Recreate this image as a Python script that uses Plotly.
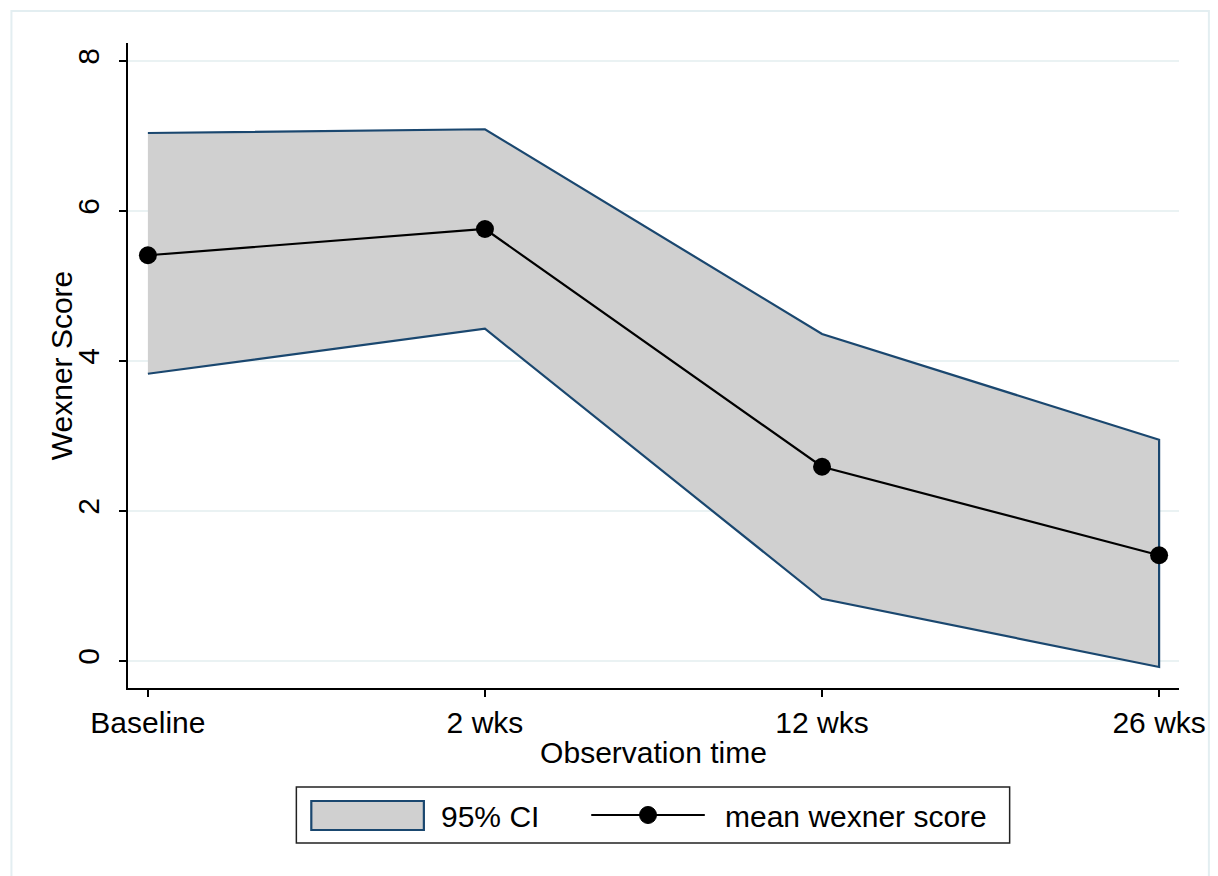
import plotly.graph_objects as go

# ---- data ----
categories = ["Baseline", "2 wks", "12 wks", "26 wks"]
mean_score = [5.41, 5.76, 2.59, 1.41]
ci_upper = [7.04, 7.09, 4.36, 2.95]
ci_lower = [3.83, 4.43, 0.83, -0.08]
y_ticks = [0, 2, 4, 6, 8]

xpos = list(range(len(categories)))

# ---- layout geometry (pixels) ----
W, H = 1218, 876
L, R, T, B = 128, 35, 43, 188
PW, PH = W - L - R, H - T - B


def px(x):
    return (x - L) / PW


def py(y):
    return (H - B - y) / PH


FONT = "Liberation Sans, Arial, Helvetica, sans-serif"
FS = 30
NAVY = "#1a476f"
GRAY = "#d0d0d0"

fig = go.Figure()

fig.add_trace(go.Scatter(
    x=xpos + xpos[::-1],
    y=ci_upper + ci_lower[::-1],
    fill="toself", fillcolor=GRAY,
    line=dict(color=NAVY, width=2.2),
    mode="lines", name="95% CI", showlegend=False, hoverinfo="skip",
))
fig.add_trace(go.Scatter(
    x=xpos, y=mean_score, mode="lines+markers",
    line=dict(color="black", width=2.2),
    marker=dict(color="black", size=18),
    name="mean wexner score", showlegend=False,
))

shapes = [
    # outer frame
    dict(type="rect", xref="paper", yref="paper", x0=px(11), x1=px(1213), y0=py(11), y1=py(900),
         line=dict(color="#e3eef1", width=2), layer="below"),
    # legend box
    dict(type="rect", xref="paper", yref="paper", x0=px(297), x1=px(1013), y0=py(787), y1=py(843),
         line=dict(color="#222222", width=1.5), fillcolor="white"),
    # legend fill swatch
    dict(type="rect", xref="paper", yref="paper", x0=px(312), x1=px(425), y0=py(801), y1=py(830),
         line=dict(color=NAVY, width=2.2), fillcolor=GRAY),
    # legend line
    dict(type="line", xref="paper", yref="paper", x0=px(593), x1=px(707), y0=py(815), y1=py(815),
         line=dict(color="black", width=2.2)),
    # legend marker
    dict(type="circle", xref="paper", yref="paper", x0=px(641.5), x1=px(658.5), y0=py(806.5), y1=py(823.5),
         line=dict(color="black", width=1), fillcolor="black"),
]

annotations = [
    dict(text="95% CI", xref="paper", yref="paper", x=px(440), y=py(816), xanchor="left", yanchor="middle",
         showarrow=False, font=dict(family=FONT, size=FS, color="black")),
    dict(text="mean wexner score", xref="paper", yref="paper", x=px(725), y=py(816), xanchor="left",
         yanchor="middle", showarrow=False, font=dict(family=FONT, size=FS, color="black")),
    dict(text="Wexner Score", xref="paper", yref="paper", x=px(61), y=py(365), xanchor="center",
         yanchor="middle", textangle=-90, showarrow=False, font=dict(family=FONT, size=FS, color="black")),
]

fig.update_layout(
    width=W, height=H,
    margin=dict(l=L, r=R, t=T, b=B, pad=0),
    paper_bgcolor="white", plot_bgcolor="white",
    font=dict(family=FONT, size=FS, color="black"),
    showlegend=False,
    shapes=shapes, annotations=annotations,
    xaxis=dict(
        range=[-0.059, 3.059], tickmode="array", tickvals=xpos, ticktext=categories,
        showgrid=False, zeroline=False, showline=True, linecolor="black", linewidth=2,
        ticks="outside", ticklen=7, tickwidth=1.5, tickcolor="black",
        tickfont=dict(family=FONT, size=FS),
        title=dict(text="Observation time", standoff=4, font=dict(family=FONT, size=FS)),
    ),
    yaxis=dict(
        range=[-0.36, 8.24], tickmode="array", tickvals=y_ticks,
        tickangle=-90,
        showgrid=True, gridcolor="#eaf2f3", gridwidth=2, zeroline=False,
        showline=True, linecolor="black", linewidth=2,
        ticks="outside", ticklen=7, tickwidth=1.5, tickcolor="black",
        tickfont=dict(family=FONT, size=FS), ticklabelstandoff=8,
    ),
)

fig.write_html(
    "out.html",
    config={"displayModeBar": False},
    post_script="document.body.style.margin='0';document.body.style.overflow='hidden';",
)
